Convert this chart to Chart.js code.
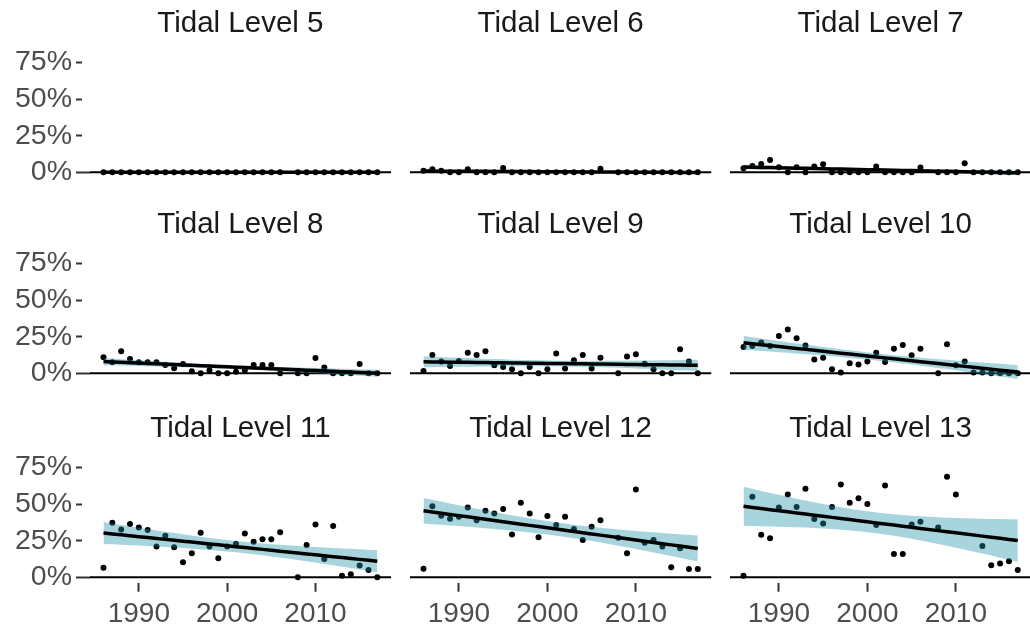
<!DOCTYPE html>
<html>
<head>
<meta charset="utf-8">
<script src="https://cdn.jsdelivr.net/npm/chart.js@4.4.1/dist/chart.umd.min.js"></script>
<style>
  html, body { margin: 0; padding: 0; background: #fff; overflow: hidden; }
  body { width: 1030px; height: 625px; position: relative; }
  canvas.panel { position: absolute; }
</style>
</head>
<body>
<script>
// survey years (no record for 2007)
const years = [1986, 1987, 1988, 1989, 1990, 1991, 1992, 1993, 1994, 1995,
  1996, 1997, 1998, 1999, 2000, 2001, 2002, 2003, 2004, 2005,
  2006, 2008, 2009, 2010, 2011, 2012, 2013, 2014, 2015, 2016, 2017];

// percent cover per tidal level, one value per survey year (null = no value)
const level5 = [0, 0, 0, 0, 0, 0, 0, 0, 0, 0, 0, 0, 0, 0, 0, 0, 0, 0, 0, 0, 0, 0, 0, 0, 0, 0, 0, 0, 0, 0, 0];
const level6 = [1, 2, 1, 0, 0, 2, 0, 0, 0, 3, 0, 0, 0, 0, 0, 0, 0, 0, 0, 0, 2.5, 0, 0, 0, 0, 0, 0, 0, 0, 0, 0];
const level7 = [2.7, 4.3, 5.7, 8.4, 3.5, 0, 3.4, 0, 3.9, 5.5, 0, 0, 0, 0, 0, 3.9, 0, 0, 0, 0, 3.2, 0, 0, 0, 6.1, 0, 0, 0, 0, 0, 0];
const level8 = [11, 7.5, 15, 9.8, 7.5, 7.5, 7.5, 5.7, 3.4, 6.4, 1.4, 0, 2, 0, 0, 1, 2, 5.7, 5.7, 5.7, 0, 0, 0, 10.5, 4, 0, 0, 0, 6.4, 0, 0];
const level9 = [1.6, 12.5, 8, 5, 8.4, 14, 12.5, 15, 5.5, 4.3, 2.7, 0, 4.3, 0, 2.7, 13.6, 3.2, 8.9, 12.5, 3.2, 10.7, 0, 11.4, 13, 6.6, 2.7, 0, 0, 16.4, 8, 0];
const level10 = [18, 18.6, 21, 18.6, 25.5, 30, 24, 19, 9.5, 10.7, 2.7, 0.5, 6.8, 6, 8, 14, 7.7, 16.8, 19.3, 12.3, 16.8, 0, 19.8, 5.5, 8, 0.5, 0.5, 0, 0, 0, 0];
const level11 = [6.6, 37.3, 32.7, 36.4, 34, 32.3, 21, 28.4, 20.5, 10.2, 16.4, 30.5, 21, 13, 21, 23, 30, 24.3, 26, 26, 30.7, 0, 22, 36, 12.5, 35, 1, 2, 8, 5, 0];
const level12 = [5.9, 48.6, 42, 40, 41.4, 47.7, 39, 45.5, 43.6, 46.6, 29.3, 51, 43.6, 27.3, 41.8, 35.7, 41.4, 33, 25.5, 34.5, 39, 27, 16.4, 60, 23.6, 25.5, 21, 6.8, 19.8, 5.7, 5.7];
const level13 = [1, 55, 29, 26.6, 47.7, 56.6, 48, 60.5, 39.8, 36.8, 48, 63.4, 51, 54, 50, 35.7, 62.7, 16, 16, 36, 38, 34, 68.6, 56.6, null, null, 21.4, 8.2, 9.5, 11, 5];

const levels = [5, 6, 7, 8, 9, 10, 11, 12, 13];
const series = [level5, level6, level7, level8, level9, level10, level11, level12, level13];

const yTicks = [0, 25, 50, 75];
const xTicks = [1990, 2000, 2010];
const xLimits = [1984.45, 2018.55];

const T95 = 2.045; // two-sided 95% t quantile, ~29 df

// least squares line + 95% confidence band, evaluated at the observed years
const linearFit = (xs, ys) => {
  const pts = xs.map((x, i) => [x, ys[i]]).filter((p) => p[1] !== null);
  const n = pts.length;
  const mx = pts.reduce((s, p) => s + p[0], 0) / n;
  const my = pts.reduce((s, p) => s + p[1], 0) / n;
  let sxx = 0, sxy = 0;
  pts.forEach(([x, y]) => { sxx += (x - mx) ** 2; sxy += (x - mx) * (y - my); });
  const slope = sxy / sxx;
  const icpt = my - slope * mx;
  let sse = 0;
  pts.forEach(([x, y]) => { sse += (y - icpt - slope * x) ** 2; });
  const s = Math.sqrt(sse / (n - 2));
  return pts.map(([x]) => {
    const fit = icpt + slope * x;
    const se = s * Math.sqrt(1 / n + (x - mx) ** 2 / sxx);
    return { x, fit, lo: fit - T95 * se, hi: fit + T95 * se };
  });
};

const FONT = "'Liberation Sans', Arial, sans-serif";
const colLeft = [0, 400, 720];
const colWidth = [400, 320, 320];
const rowTop = [0, 201, 405];

levels.forEach((lvl, i) => {
  const col = i % 3;
  const row = Math.floor(i / 3);
  const first = col === 0;
  const last = row === 2;

  const canvas = document.createElement("canvas");
  canvas.className = "panel";
  canvas.width = colWidth[col];
  canvas.height = last ? 230 : 200;
  canvas.style.left = colLeft[col] + "px";
  canvas.style.top = rowTop[row] + "px";
  document.body.appendChild(canvas);

  const vals = series[i];
  const fit = linearFit(years, vals);

  new Chart(canvas, {
    type: "line",
    data: {
      datasets: [
        {
          label: "zero",
          data: xLimits.map((x) => ({ x, y: 0 })),
          borderColor: "#000",
          borderWidth: 2,
          pointRadius: 0,
          order: 5,
        },
        {
          label: "observed",
          data: years.map((x, k) => ({ x, y: vals[k] })).filter((p) => p.y !== null),
          showLine: false,
          pointRadius: 3,
          pointBackgroundColor: "#000",
          pointBorderWidth: 0,
          order: 4,
        },
        {
          label: "lower",
          data: fit.map((p) => ({ x: p.x, y: p.lo })),
          borderColor: "transparent",
          borderWidth: 0,
          pointRadius: 0,
          fill: false,
          order: 3,
        },
        {
          label: "upper",
          data: fit.map((p) => ({ x: p.x, y: p.hi })),
          borderColor: "transparent",
          borderWidth: 0,
          pointRadius: 0,
          fill: "-1",
          backgroundColor: "rgba(38, 150, 170, 0.4)",
          order: 2,
        },
        {
          label: "trend",
          data: fit.map((p) => ({ x: p.x, y: p.fit })),
          borderColor: "#000",
          borderWidth: 3.5,
          pointRadius: 0,
          order: 1,
        },
      ],
    },
    options: {
      responsive: false,
      maintainAspectRatio: false,
      devicePixelRatio: 1,
      animation: false,
      events: [],
      layout: {
        padding: { left: first ? 0 : 9.8, right: first ? 9 : 8.5, top: 0, bottom: last ? 0 : 21.7 },
      },
      plugins: {
        legend: { display: false },
        tooltip: { enabled: false },
        title: {
          display: true,
          fullSize: false,
          text: "Tidal Level " + lvl,
          color: "#1a1a1a",
          font: { family: FONT, size: 29.5, weight: "normal", lineHeight: 1.2 },
          padding: { top: 6.4, bottom: 4.6 },
        },
      },
      scales: {
        x: {
          type: "linear",
          display: last,
          min: xLimits[0],
          max: xLimits[1],
          afterBuildTicks: (s) => { s.ticks = xTicks.map((v) => ({ value: v })); },
          afterFit: (s) => { s.height = last ? 51.7 : 0; },
          border: { display: false },
          grid: { display: true, drawOnChartArea: false, drawTicks: true, tickLength: 8.4, tickColor: "#333", tickWidth: 2 },
          ticks: { color: "#4d4d4d", font: { family: FONT, size: 28 }, padding: 6, maxRotation: 0, callback: (v) => String(v) },
        },
        y: {
          type: "linear",
          display: first,
          min: -4.1,
          max: 86,
          afterBuildTicks: (s) => { s.ticks = yTicks.map((v) => ({ value: v })); },
          afterFit: (s) => { s.width = first ? 89.8 : 0; },
          border: { display: false },
          grid: {
            display: true,
            drawOnChartArea: false,
            drawTicks: true,
            tickLength: 13.8,
            tickColor: "#333",
            tickWidth: 2,
            // short dashes off the panel; the 0% mark runs into the zero line
            tickBorderDash: (ctx) => (ctx.tick && ctx.tick.value === 0 ? [] : [6, 8]),
          },
          ticks: { color: "#4d4d4d", font: { family: FONT, size: 28.5 }, padding: 4, callback: (v) => v + "%" },
        },
      },
    },
  });
});
</script>
</body>
</html>
